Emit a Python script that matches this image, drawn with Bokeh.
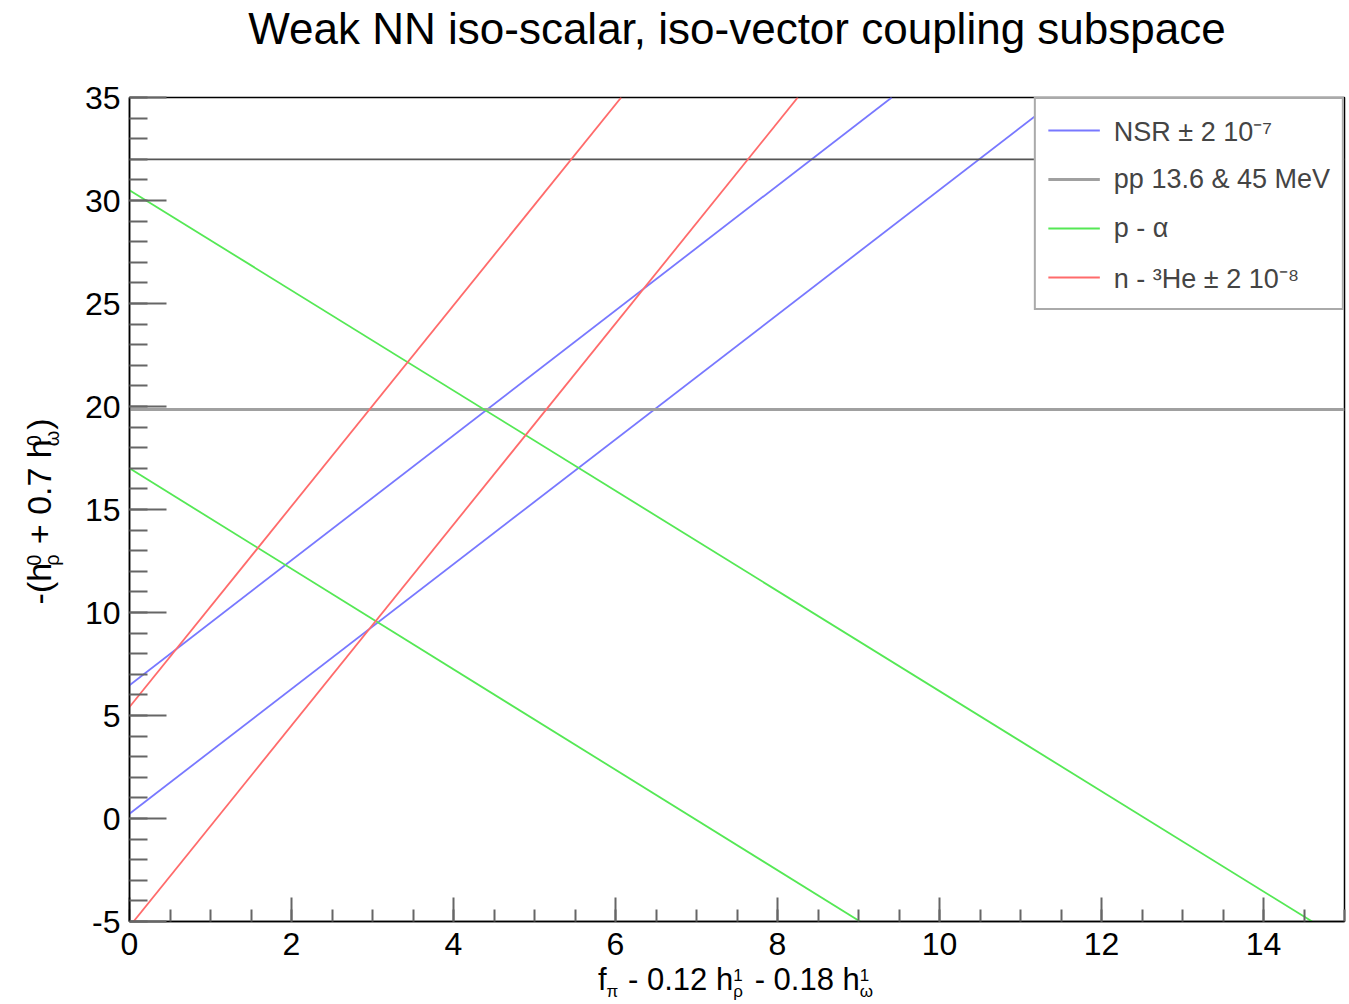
import numpy as np
from bokeh.plotting import figure
from bokeh.layouts import column, row
from bokeh.models import Legend, LegendItem, FixedTicker, Range1d, PrintfTickFormatter
from bokeh.core.properties import value
from bokeh.embed import file_html
from bokeh.resources import INLINE

# ---------------- data ----------------
title_text = "Weak NN iso-scalar, iso-vector coupling subspace"
x_ticks = [0, 2, 4, 6, 8, 10, 12, 14]
y_ticks = [-5, 0, 5, 10, 15, 20, 25, 30, 35]

# NSR ± 2 10^-7 band edges (blue)
nsr_x = [[0.0, 9.41], [0.0, 11.48]]
nsr_y = [[6.47, 35.0], [0.23, 35.0]]
# pp 13.6 & 45 MeV (gray)
pp_x = [[0.0, 15.0], [0.0, 15.0]]
pp_y = [[32.0, 32.0], [19.85, 19.85]]
# p - alpha (green)
pa_x = [[0.0, 14.6], [0.0, 9.02]]
pa_y = [[30.5, -5.0], [17.0, -5.0]]
# n - 3He ± 2 10^-8 (red)
he_x = [[0.0, 6.07], [0.05, 8.25]]
he_y = [[5.41, 35.0], [-5.0, 35.0]]

legend_labels = ["NSR ± 2 10⁻⁷", "pp 13.6 & 45 MeV", "p - α", "n - ³He ± 2 10⁻⁸"]

x_label_parts = ["f", (None, "π"), " - 0.12 h", ("1", "ρ"), " - 0.18 h", ("1", "ω")]
y_label_parts = ["-(h", ("0", "ρ"), " + 0.7 h", ("0", "ω"), ")"]

# ---------------- layout geometry (canvas pixels) ----------------
FONT = "Liberation Sans"
CW, CH = 1349, 1004
TOP_H = 77          # title strip
BOT_H = 44          # x-label strip
LEFT_W = 70         # y-label strip
MID_H = CH - TOP_H - BOT_H
FL, FT, FR, FB = 129, 97, 1344, 921   # plot frame in canvas pixels
BASE_K = 0.385      # renderer places the alphabetic baseline this fraction of the size below the anchor

X0, X1, Y0, Y1 = 0, 15, -5, 35


def strip(width, height, x0, y0):
    """Blank figure whose data coordinates equal canvas pixels (y downward)."""
    f = figure(width=width, height=height, output_backend="svg", toolbar_location=None,
               title=None,
               x_range=Range1d(x0, x0 + width), y_range=Range1d(y0 + height, y0),
               x_axis_type=None, y_axis_type=None, min_border=0,
               min_border_left=0, min_border_right=0, min_border_top=0, min_border_bottom=0)
    f.outline_line_color = None
    f.background_fill_color = "white"
    f.border_fill_color = "white"
    f.grid.visible = False
    return f


# ---------------- main plot ----------------
p = figure(width=CW - LEFT_W, height=MID_H, output_backend="svg", toolbar_location=None,
           title=None,
           x_range=Range1d(X0, X1), y_range=Range1d(Y0, Y1),
           min_border_left=FL - LEFT_W, min_border_right=CW - FR,
           min_border_top=FT - TOP_H, min_border_bottom=TOP_H + MID_H - FB)
p.background_fill_color = "white"
p.border_fill_color = "white"
p.outline_line_color = "black"
p.outline_line_width = 1.5
p.xgrid.grid_line_color = None
p.ygrid.grid_line_color = None

p.xaxis.ticker = FixedTicker(ticks=x_ticks, minor_ticks=list(np.arange(X0, X1 + 0.01, 0.5)))
p.yaxis.ticker = FixedTicker(ticks=y_ticks, minor_ticks=list(np.arange(Y0, Y1 + 0.01, 1.0)))
for ax in (p.xaxis, p.yaxis):
    ax.formatter = PrintfTickFormatter(format="%d")
    ax.axis_line_color = "black"
    ax.axis_line_width = 1.5
    ax.major_tick_out = 0
    ax.minor_tick_out = 0
    ax.major_tick_line_color = "#666666"
    ax.minor_tick_line_color = "#666666"
    ax.major_tick_line_width = 2
    ax.minor_tick_line_width = 2
    ax.major_label_text_font = FONT
    ax.major_label_text_font_size = "32px"
    ax.major_label_text_color = "black"
p.xaxis.major_tick_in = 24
p.xaxis.minor_tick_in = 12
p.yaxis.major_tick_in = 37
p.yaxis.minor_tick_in = 18
p.xaxis.major_label_standoff = 11
p.yaxis.major_label_standoff = 9

r_nsr = p.multi_line(nsr_x, nsr_y, line_color="#7878ff", line_width=1.8)
r_pp_dark = p.multi_line([pp_x[0]], [pp_y[0]], line_color="#555555", line_width=1.8)
r_pp = p.multi_line([pp_x[1]], [pp_y[1]], line_color="#a0a0a0", line_width=3)
r_pa = p.multi_line(pa_x, pa_y, line_color="#55e855", line_width=1.8)
r_he = p.multi_line(he_x, he_y, line_color="#ff6b6b", line_width=1.8)

legend = Legend(items=[
    LegendItem(label=legend_labels[0], renderers=[r_nsr]),
    LegendItem(label=legend_labels[1], renderers=[r_pp]),
    LegendItem(label=legend_labels[2], renderers=[r_pa]),
    LegendItem(label=legend_labels[3], renderers=[r_he]),
], location="top_right")
legend.margin = 0
legend.padding = 12
legend.spacing = 11
legend.glyph_width = 52
legend.glyph_height = 38
legend.label_height = 38
legend.label_standoff = 14
legend.label_text_font = FONT
legend.label_text_font_size = "27px"
legend.border_line_color = "#555555"
legend.border_line_width = 2
legend.background_fill_color = "white"
legend.background_fill_alpha = 1.0
p.add_layout(legend)

# ---------------- rich text helpers ----------------
W = {' ': 0.278, '-': 0.333, '(': 0.333, ')': 0.333, '+': 0.584, '.': 0.278,
     'f': 0.278, 'h': 0.556, 'π': 0.58, 'ρ': 0.58, 'ω': 0.78}
for d in "0123456789":
    W[d] = 0.556


def tw(s, size):
    return sum(W.get(c, 0.556) for c in s) * size


def layout_parts(parts, main, small, sup_shift, sub_shift, gap):
    """Returns (text, size, advance position, baseline shift) for every piece."""
    out, pos = [], 0.0
    for part in parts:
        if isinstance(part, str):
            lead = len(part) - len(part.lstrip(" "))
            trail = len(part) - len(part.rstrip(" "))
            pos += tw(" " * lead, main)
            core = part.strip(" ")
            out.append((core, main, pos, 0.0))
            pos += tw(core, main) + tw(" " * trail, main)
        else:
            sup, sub = part
            w = 0.0
            if sup:
                out.append((sup, small, pos, sup_shift))
                w = max(w, tw(sup, small))
            if sub:
                out.append((sub, small, pos, -sub_shift))
                w = max(w, tw(sub, small))
            pos += w + gap
    return out, pos


def draw_pieces(fig, xs, ys, texts, sizes, angle):
    for sz in sorted(set(sizes)):
        idx = [i for i, s in enumerate(sizes) if s == sz]
        fig.text(x=[xs[i] for i in idx], y=[ys[i] for i in idx], text=[texts[i] for i in idx],
                 angle=angle, text_align="left", text_baseline="alphabetic",
                 text_font=value(FONT), text_font_size=value(f"{sz}px"), text_color="black")


# title strip (baseline at y = 45)
TITLE_SIZE = 44
top = strip(CW, TOP_H, 0, 0)
top.text(x=[(FL + FR) / 2], y=[45 - BASE_K * TITLE_SIZE], text=[title_text], text_align="center",
         text_baseline="alphabetic", text_font=value(FONT), text_font_size=value(f"{TITLE_SIZE}px"),
         text_color="black")

# x-label strip (baseline at y = 991, kept clear of the strip's top edge)
XM, XS = 31, 17
bot = strip(CW, BOT_H, 0, TOP_H + MID_H)
pieces, total = layout_parts(x_label_parts, XM, XS, 10, 7, 3)
sx0 = (FL + FR) / 2 - total / 2
draw_pieces(bot, [sx0 + pos for _, _, pos, _ in pieces],
            [991 - sh - BASE_K * s for _, s, _, sh in pieces],
            [t for t, _, _, _ in pieces], [s for _, s, _, _ in pieces], 0.0)

# y-label strip (baseline at x = 52, text reading upward)
YM, YS = 34, 20
left = strip(LEFT_W, MID_H, 0, TOP_H)
pieces, total = layout_parts(y_label_parts, YM, YS, 11, 7, 2)
sy0 = 521 + total / 2
draw_pieces(left, [52 - sh - BASE_K * s for _, s, _, sh in pieces],
            [sy0 - pos for _, _, pos, _ in pieces],
            [t for t, _, _, _ in pieces], [s for _, s, _, _ in pieces], np.pi / 2)

layout = column(top, row(left, p), bot)
open("out.html", "w").write(file_html(layout, INLINE))
